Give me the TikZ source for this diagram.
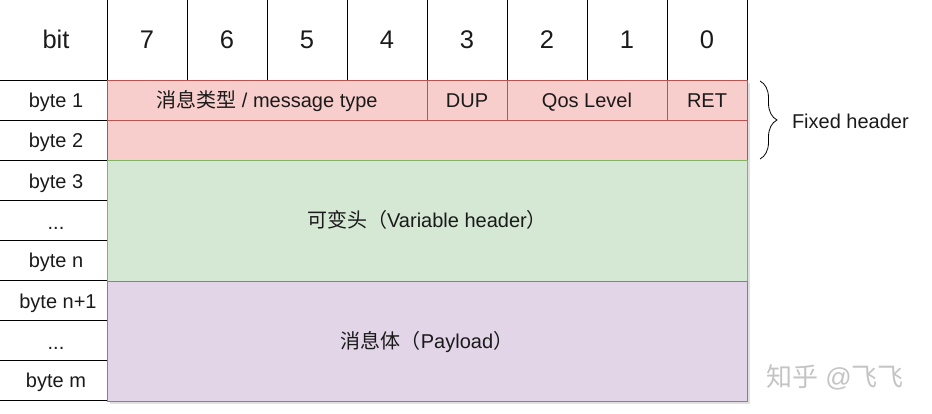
\documentclass[tikz,border=0pt]{standalone}
\usepackage{fontspec}
\setmainfont{Liberation Sans}
\newfontfamily\cjk{Noto Sans CJK SC}
\usetikzlibrary{decorations.pathreplacing}
\definecolor{pinkf}{HTML}{F8CECC}
\definecolor{pinkd}{HTML}{B85450}
\definecolor{greenf}{HTML}{D5E8D4}
\definecolor{greend}{HTML}{82B366}
\definecolor{purplef}{HTML}{E1D5E7}
\definecolor{purpled}{HTML}{9673A6}
\definecolor{txt}{HTML}{1A1A1A}
\definecolor{wm}{HTML}{C4C4C4}
\begin{document}
\begin{tikzpicture}[x=1pt,y=-1pt,
  every node/.style={text=txt, inner sep=0pt, outer sep=0pt},
  big/.style={font=\fontsize{25.5}{28}\selectfont, text height=18pt, text depth=0pt},
  lab/.style={font=\fontsize{20}{23}\selectfont, text height=17pt, text depth=2pt},
  pinkbox/.style={draw=pinkd, fill=pinkf, lab, line width=0.8pt},
  greenbox/.style={draw=greend, fill=greenf, lab, line width=0.8pt},
  purplebox/.style={draw=purpled, fill=purplef, lab, line width=0.8pt},
  grid/.style={draw=black, line width=0.8pt},
  shade/.style={fill=black, opacity=0.12}]
\useasboundingbox (0,0) rectangle (932,414);
% shadows
\fill[shade] (110,83) rectangle (750,404);
% header row
\node[big] (bit) at (56,40) {bit};
\foreach \i/\d in {0/7,1/6,2/5,3/4,4/3,5/2,6/1,7/0} {
  \node[big] (h\d) at (147+80*\i,40) {\d};
}
\foreach \i in {0,...,8} { \draw[grid] (107+80*\i,0) -- (107+80*\i,80); }
% left column
\foreach \y in {80,120,...,400} { \draw[grid] (0,\y) -- (107,\y); }
\node[lab] (b1) at (56,100) {byte 1};
\node[lab] (b2) at (56,140) {byte 2};
\node[lab] (b3) at (56,181) {byte 3};
\node[lab] (bd1) at (56,222) {...};
\node[lab] (bn) at (56,260) {byte n};
\node[lab] (bn1) at (58,301) {byte n+1};
\node[lab] (bd2) at (56,342) {...};
\node[lab] (bm) at (56,380) {byte m};
% fixed header
\node[pinkbox, minimum width=640pt, minimum height=40pt] (byte2) at (427,140) {};
\node[pinkbox, minimum width=320pt, minimum height=40pt] (mtype) at (267,100) {{\cjk 消息类型} / message type};
\node[pinkbox, minimum width=80pt, minimum height=40pt] (dup) at (467,100) {DUP};
\node[pinkbox, minimum width=160pt, minimum height=40pt] (qos) at (587,100) {Qos Level};
\node[pinkbox, minimum width=80pt, minimum height=40pt] (ret) at (707,100) {RET};
% variable header and payload
\node[greenbox, minimum width=640pt, minimum height=121pt] (var) at (427,220.5) {{\cjk 可变头（}Variable header{\cjk ）}};
\node[purplebox, minimum width=640pt, minimum height=120pt] (pay) at (427,341) {{\cjk 消息体（}Payload{\cjk ）}};
% brace
\draw[line width=0.8pt, decorate, decoration={brace, amplitude=17pt}] (760,81) -- (760,159);
\node[lab, anchor=west] (fixed) at (792,121) {Fixed header};
% watermark
\node[font=\fontsize{26}{28}\selectfont, text=wm] (mark) at (835,377) {{\cjk 知乎} @{\cjk 飞飞}};
\end{tikzpicture}
\end{document}
